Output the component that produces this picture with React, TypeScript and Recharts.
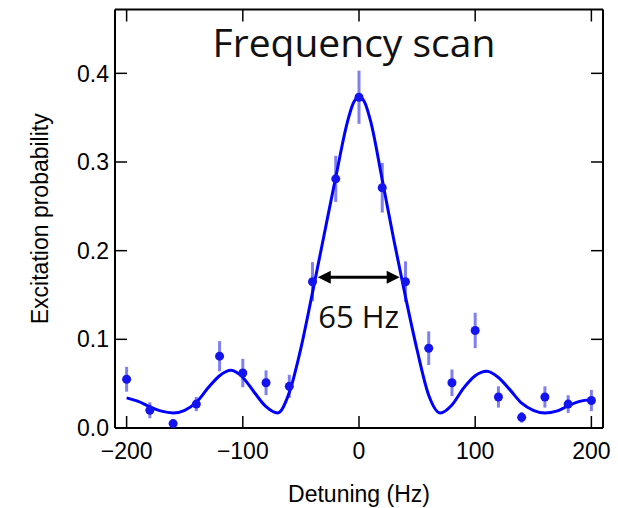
import {
  ComposedChart,
  Line,
  Scatter,
  ErrorBar,
  XAxis,
  YAxis,
  ReferenceLine
} from "recharts";

// measured points (detuning in Hz, excitation probability, 1-sigma error)
const pointX = [-200, -180, -160, -140, -120, -100, -80, -60, -40, -20, 0, 20, 40, 60, 80, 100, 120, 140, 160, 180, 200];
const pointY = [0.055, 0.02, 0.005, 0.027, 0.081, 0.062, 0.051, 0.047, 0.165, 0.281, 0.373, 0.271, 0.165, 0.09, 0.051, 0.11, 0.035, 0.012, 0.035, 0.027, 0.031];
const pointErr = [0.014, 0.009, 0.004, 0.008, 0.017, 0.016, 0.014, 0.013, 0.022, 0.026, 0.03, 0.028, 0.023, 0.019, 0.015, 0.02, 0.012, 0.006, 0.012, 0.01, 0.012];

// fitted curve
const fitX = [-200, -190, -180, -170, -160, -150, -140, -130, -120, -110, -100, -90, -80, -70, -60, -50, -40, -30, -20, -10, -5, 0, 5, 10, 20, 30, 40, 50, 60, 70, 80, 90, 100, 110, 120, 130, 140, 150, 160, 170, 180, 190, 200];
const fitY = [0.034, 0.03, 0.024, 0.019, 0.017, 0.02, 0.029, 0.045, 0.059, 0.065, 0.057, 0.04, 0.024, 0.017, 0.04, 0.09, 0.153, 0.218, 0.283, 0.345, 0.366, 0.374, 0.367, 0.346, 0.28, 0.212, 0.148, 0.088, 0.037, 0.017, 0.026, 0.045, 0.059, 0.064, 0.057, 0.043, 0.028, 0.02, 0.017, 0.019, 0.025, 0.03, 0.032];

const xTicks = [-200, -100, 0, 100, 200];
const yTicks = [0, 0.1, 0.2, 0.3, 0.4];

// FWHM arrow
const arrowX = [-35.5, 35];
const arrowY = 0.17;
const arrowLabel = "65 Hz";

const points = pointX.map((x, i) => ({ x, y: pointY[i], err: pointErr[i] }));
const fit = fitX.map((x, i) => ({ x, fit: fitY[i] }));

const tickFont = { fontSize: 23, fontFamily: "Liberation Sans, Arial, sans-serif", fill: "#000" };
const fmtX = (v: number) => (v < 0 ? `\u2212${Math.abs(v)}` : `${v}`);

const Arrow = (props: any) => {
  const { x1, y1, x2 } = props;
  const head = 13;
  const half = 6.5;
  return (
    <g>
      <line x1={x1 + head - 2} y1={y1} x2={x2 - head + 2} y2={y1} stroke="#000" strokeWidth={3} />
      <polygon points={`${x1},${y1} ${x1 + head},${y1 - half} ${x1 + head},${y1 + half}`} fill="#000" />
      <polygon points={`${x2},${y1} ${x2 - head},${y1 - half} ${x2 - head},${y1 + half}`} fill="#000" />
      <text
        x={(x1 + x2) / 2}
        y={y1 + 51}
        textAnchor="middle"
        fontSize={31}
        fontFamily="Open Sans, sans-serif"
        fill="#111"
      >
        {arrowLabel}
      </text>
    </g>
  );
};

export default function App() {
  return (
    <div style={{ position: "absolute", left: 0, top: 0, width: 618, height: 508, background: "#fff" }}>
      <ComposedChart width={618} height={508} margin={{ top: 8.5, right: 14, bottom: 0, left: 0 }}>
        <XAxis
          dataKey="x"
          type="number"
          domain={[-210, 210]}
          ticks={xTicks}
          allowDataOverflow
          height={80}
          tickSize={-12}
          tickMargin={27}
          tick={tickFont}
          tickFormatter={fmtX}
          axisLine={{ stroke: "#000", strokeWidth: 2 }}
          tickLine={{ stroke: "#000", strokeWidth: 1.5 }}
          label={{
            value: "Detuning (Hz)",
            position: "insideBottom",
            offset: 6,
            style: { fontSize: 23, fontFamily: "Liberation Sans, Arial, sans-serif", fill: "#000" }
          }}
        />
        <XAxis
          xAxisId="top"
          dataKey="x"
          type="number"
          orientation="top"
          domain={[-210, 210]}
          ticks={xTicks}
          allowDataOverflow
          height={1}
          tickSize={-12}
          tickFormatter={() => ""}
          axisLine={{ stroke: "#000", strokeWidth: 2 }}
          tickLine={{ stroke: "#000", strokeWidth: 1.5 }}
        />
        <YAxis
          type="number"
          domain={[0, 0.472]}
          ticks={yTicks}
          allowDataOverflow
          width={115}
          tickSize={-12}
          tickMargin={18}
          tick={tickFont}
          tickFormatter={(v: number) => v.toFixed(1)}
          axisLine={{ stroke: "#000", strokeWidth: 2 }}
          tickLine={{ stroke: "#000", strokeWidth: 1.5 }}
          label={{
            value: "Excitation probability",
            angle: -90,
            position: "insideLeft",
            offset: 40,
            style: { fontSize: 23, fontFamily: "Liberation Sans, Arial, sans-serif", fill: "#000", textAnchor: "middle" }
          }}
        />
        <YAxis
          yAxisId="right"
          orientation="right"
          type="number"
          domain={[0, 0.472]}
          ticks={yTicks}
          allowDataOverflow
          width={1}
          tickSize={-12}
          tickFormatter={() => ""}
          axisLine={{ stroke: "#000", strokeWidth: 2 }}
          tickLine={{ stroke: "#000", strokeWidth: 1.5 }}
        />
        <Scatter
          data={points}
          dataKey="y"
          isAnimationActive={false}
          shape={(p: any) => <circle cx={p.cx} cy={p.cy} r={4.5} fill="#1414f0" />}
        >
          <ErrorBar dataKey="err" direction="y" width={0} stroke="#8080f2" strokeWidth={3} />
        </Scatter>
        <Line
          data={fit}
          dataKey="fit"
          type="monotone"
          stroke="#0000ff"
          strokeWidth={3}
          dot={false}
          activeDot={false}
          isAnimationActive={false}
        />
        <ReferenceLine
          segment={[
            { x: arrowX[0], y: arrowY },
            { x: arrowX[1], y: arrowY }
          ]}
          shape={Arrow}
        />
      </ComposedChart>
      <div
        style={{
          position: "absolute",
          left: 154,
          top: 22,
          width: 400,
          textAlign: "center",
          fontSize: 39,
          lineHeight: "39px",
          fontFamily: "Open Sans, sans-serif",
          color: "#111"
        }}
      >
        Frequency scan
      </div>
    </div>
  );
}
